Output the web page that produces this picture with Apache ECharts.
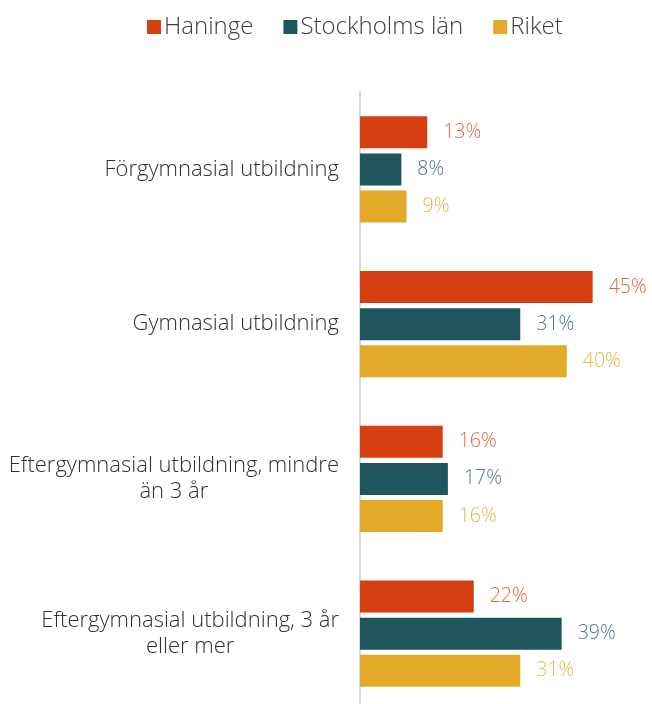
<!DOCTYPE html>
<html>
<head>
<meta charset="utf-8">
<script src="https://cdn.jsdelivr.net/npm/echarts@6/dist/echarts.min.js"></script>
<style>
  html, body { margin: 0; padding: 0; background: #ffffff; }
  #chart { width: 652px; height: 704px; }
</style>
</head>
<body>
<div id="chart"></div>
<script>
// Utbildningsnivå, andel av befolkningen (%)
const categories = [
  'Förgymnasial utbildning',
  'Gymnasial utbildning',
  'Eftergymnasial utbildning, mindre\nän 3 år',
  'Eftergymnasial utbildning, 3 år\neller mer'
];
const seriesNames = ['Haninge', 'Stockholms län', 'Riket'];
const haninge = [13, 45, 16, 22];
const stockholmsLan = [8, 31, 17, 39];
const riket = [9, 40, 16, 31];

const barColors = ['#D63F11', '#1F555E', '#E3A929'];
const labelColors = ['#E2673F', '#4F7A82', '#E9B547'];
const FONT = '"Open Sans", "Noto Sans", sans-serif';

const values = [haninge, stockholmsLan, riket];

const chart = echarts.init(document.getElementById('chart'), null, { renderer: 'canvas' });

chart.setOption({
  animation: false,
  backgroundColor: '#ffffff',
  textStyle: { fontFamily: FONT },
  legend: {
    top: 10,
    left: 142,
    itemWidth: 14,
    itemHeight: 14,
    itemGap: 30,
    icon: 'rect',
    textStyle: { fontFamily: FONT, fontSize: 24, fontWeight: 300, color: '#404040', padding: [0, 0, 0, -2] },
    data: seriesNames
  },
  grid: {
    left: 360,
    width: 258.5,
    top: 92,
    height: 619,
    containLabel: false,
    outerBoundsMode: 'none'
  },
  xAxis: {
    type: 'value',
    min: 0,
    max: 50,
    show: false
  },
  yAxis: {
    type: 'category',
    inverse: true,
    data: categories,
    axisLine: { show: true, lineStyle: { color: '#D9D9D9', width: 2 } },
    axisTick: { show: false },
    axisLabel: {
      margin: 21,
      align: 'right',
      formatter: function (v) { return '{c|' + v.split('\n').join('}\n{c|') + '}'; },
      rich: {
        c: {
          align: 'center',
          fontFamily: FONT,
          fontSize: 22,
          fontWeight: 300,
          color: '#303030',
          lineHeight: 26
        }
      }
    }
  },
  series: seriesNames.map(function (name, i) {
    return {
      name: name,
      type: 'bar',
      data: values[i],
      barWidth: 32,
      barGap: '16%',
      itemStyle: { color: barColors[i] },
      label: {
        show: true,
        position: 'right',
        distance: 16,
        formatter: '{c}%',
        fontFamily: FONT,
        fontSize: 19.5,
        fontWeight: 300,
        color: labelColors[i]
      }
    };
  })
});
</script>
</body>
</html>
